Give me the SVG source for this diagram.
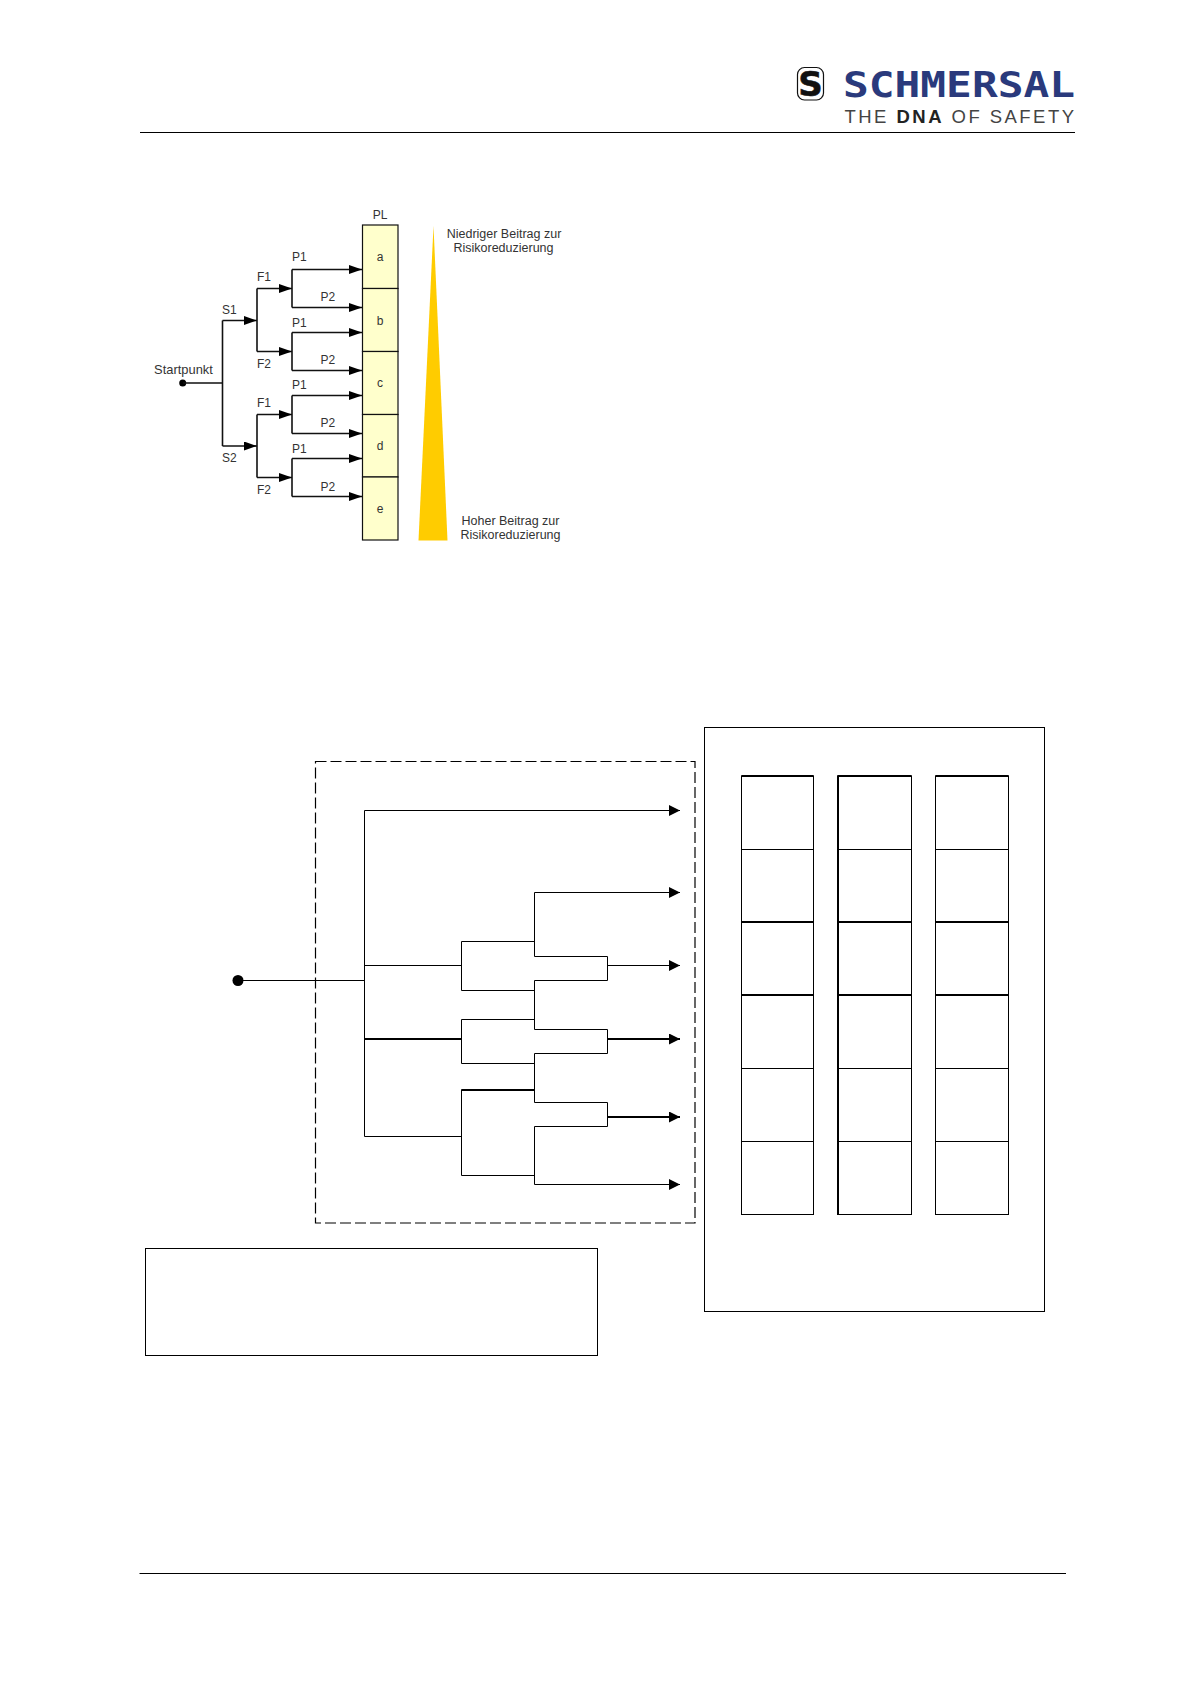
<svg xmlns="http://www.w3.org/2000/svg" width="1190" height="1684" viewBox="0 0 1190 1684">
<style>
.t{font-family:"Liberation Sans",Arial,sans-serif;font-size:12px;fill:#333}
.l{font-size:12.5px}
.m{text-anchor:middle}
.c{fill:none;stroke:#000;stroke-width:1}
.b{stroke-width:2}
.k{fill:none;stroke:#111;stroke-width:1.6}
.pl{fill:#FFFFCC;stroke:#111;stroke-width:1.2}
.g{fill:#fff;stroke:#000;stroke-width:1}
.h{stroke:#000;stroke-width:2;fill:none}
.r{stroke:#000;stroke-width:1;fill:none}
</style>
<defs>
<marker id="a1" markerUnits="userSpaceOnUse" markerWidth="13" markerHeight="9" refX="13" refY="4.5" orient="auto"><path d="M0 0L13 4.5L0 9Z" fill="#000"/></marker>
<marker id="a2" markerUnits="userSpaceOnUse" markerWidth="11" markerHeight="11" refX="11" refY="5.5" orient="auto"><path d="M0 0L11 5.5L0 11Z" fill="#000"/></marker>
</defs>
<rect width="1190" height="1684" fill="#fff"/>
<g id="header">
<line x1="140" y1="132.5" x2="1075" y2="132.5" stroke="#000" stroke-width="1"/>
<g id="logo-mark">
<rect x="797.5" y="67.5" width="26" height="32.5" rx="7" fill="#fff" stroke="#111" stroke-width="1.2"/>
<text x="810.5" y="96" text-anchor="middle" font-family="'DejaVu Sans',sans-serif" font-weight="700" font-size="34" fill="#111" stroke="#111" stroke-width="0.6">S</text>
</g>
<text x="843" y="97" font-family="'DejaVu Sans Mono',monospace" font-weight="700" font-size="35.5" fill="#2A3A7C" textLength="232" lengthAdjust="spacingAndGlyphs">SCHMERSAL</text>
<text x="844.5" y="123" font-family="'Liberation Sans',sans-serif" font-size="18.5" fill="#444" textLength="229.5">THE <tspan font-weight="700" fill="#222">DNA</tspan> OF SAFETY</text>
</g>
<g id="footer"><line x1="139.5" y1="1573.5" x2="1066" y2="1573.5" stroke="#000" stroke-width="1"/></g>

<g id="pl-column">
<g id="pl-a"><rect class="pl" x="362.5" y="225" width="35.5" height="63.5"/><text class="t m" x="380" y="260.5">a</text></g>
<g id="pl-b"><rect class="pl" x="362.5" y="288.5" width="35.5" height="63"/><text class="t m" x="380" y="325">b</text></g>
<g id="pl-c"><rect class="pl" x="362.5" y="351.5" width="35.5" height="63"/><text class="t m" x="380" y="387">c</text></g>
<g id="pl-d"><rect class="pl" x="362.5" y="414.5" width="35.5" height="62.5"/><text class="t m" x="380" y="450">d</text></g>
<g id="pl-e"><rect class="pl" x="362.5" y="477" width="35.5" height="63"/><text class="t m" x="380" y="513">e</text></g>
<text class="t m" x="380" y="219">PL</text>
</g>
<g id="risk-wedge">
<polygon points="433.5,226 447.5,540.5 418.5,540.5" fill="#FFCC00"/>
<text class="t l m" x="504" y="238">Niedriger Beitrag zur</text>
<text class="t l m" x="503.5" y="251.5">Risikoreduzierung</text>
<text class="t l m" x="510.5" y="525">Hoher Beitrag zur</text>
<text class="t l m" x="510.5" y="538.5">Risikoreduzierung</text>
</g>
<g id="risk-graph-connectors">
<circle cx="182.7" cy="383" r="3.5" fill="#000"/>
<path class="k" d="M183 383H222.5M222.5 320.5V446"/>
<path class="k" d="M222.5 320.5H257" marker-end="url(#a1)"/>
<path class="k" d="M222.5 446H257" marker-end="url(#a1)"/>
<path class="k" d="M257 288.5V351.5M257 414.5V477.5"/>
<path class="k" d="M257 288.5H292" marker-end="url(#a1)"/>
<path class="k" d="M257 351.5H292" marker-end="url(#a1)"/>
<path class="k" d="M257 414.5H292" marker-end="url(#a1)"/>
<path class="k" d="M257 477.5H292" marker-end="url(#a1)"/>
<path class="k" d="M292 269.5V307.5M292 332.5V370.5M292 395.5V433.5M292 458.5V496.5"/>
<path class="k" d="M292 269.5H362" marker-end="url(#a1)"/>
<path class="k" d="M292 307.5H362" marker-end="url(#a1)"/>
<path class="k" d="M292 332.5H362" marker-end="url(#a1)"/>
<path class="k" d="M292 370.5H362" marker-end="url(#a1)"/>
<path class="k" d="M292 395.5H362" marker-end="url(#a1)"/>
<path class="k" d="M292 433.5H362" marker-end="url(#a1)"/>
<path class="k" d="M292 458.5H362" marker-end="url(#a1)"/>
<path class="k" d="M292 496.5H362" marker-end="url(#a1)"/>
</g>
<g id="risk-graph-labels">
<text class="t l m" x="183.5" y="374" style="font-size:12.9px">Startpunkt</text>
<text class="t" x="222" y="314">S1</text><text class="t" x="222" y="462">S2</text>
<text class="t" x="257" y="281">F1</text><text class="t" x="257" y="368">F2</text>
<text class="t" x="257" y="407">F1</text><text class="t" x="257" y="494">F2</text>
<text class="t" x="292" y="260.5">P1</text><text class="t" x="292" y="326.5">P1</text><text class="t" x="292" y="389">P1</text><text class="t" x="292" y="452.5">P1</text>
<text class="t" x="320.5" y="301">P2</text><text class="t" x="320.5" y="364">P2</text><text class="t" x="320.5" y="427">P2</text><text class="t" x="320.5" y="490.5">P2</text>
</g>

<g id="dashed-box"><rect x="315.5" y="761.5" width="379.5" height="461.5" fill="none" stroke="#000" stroke-width="1.2" stroke-dasharray="11 4"/></g>
<g id="tree-connectors">
<circle cx="238" cy="980.5" r="5.5" fill="#000"/>
<path class="c" d="M238 980.5H364.5M364.5 810.5V1136.5"/>
<path class="c" d="M364.5 810.5H680" marker-end="url(#a2)"/>
<path class="c" d="M364.5 965.5H461.5M364.5 1136.5H461.5"/>
<path class="c b" d="M364.5 1039H461.5"/>
<path class="c" d="M461.5 941.5V990.5M461.5 1019.5V1063.5M461.5 1089.5V1175.5"/>
<path class="c" d="M461.5 941.5H534.5M461.5 990.5H534.5M461.5 1019.5H534.5M461.5 1063.5H534.5M461.5 1175.5H534.5"/>
<path class="c b" d="M461.5 1090H534.5"/>
<path class="c" d="M534.5 892.5V956.5M534.5 980.5V1029.5M534.5 1053.5V1102.5M534.5 1126.5V1184.5"/>
<path class="c" d="M534.5 892.5H680" marker-end="url(#a2)"/>
<path class="c" d="M534.5 1184.5H680" marker-end="url(#a2)"/>
<path class="c" d="M534.5 956.5H607.5V980.5H534.5M534.5 1029.5H607.5V1053.5H534.5M534.5 1102.5H607.5V1126.5H534.5"/>
<path class="c" d="M607.5 965.5H680" marker-end="url(#a2)"/>
<path class="c b" d="M607.5 1039H680" marker-end="url(#a2)"/>
<path class="c b" d="M607.5 1117H680" marker-end="url(#a2)"/>
</g>
<g id="note-box"><rect x="145.5" y="1248.5" width="452" height="107" fill="#fff" stroke="#000" stroke-width="1"/></g>
<g id="matrix-frame"><rect x="704.5" y="727.5" width="340" height="584" fill="#fff" stroke="#000" stroke-width="1"/></g>
<g id="col-1">
<rect class="g" x="741.5" y="776" width="72" height="438.5"/>
<path class="r" d="M741.5 849.5H813.5M741.5 1068.5H813.5M741.5 1141.5H813.5"/>
<path class="h" d="M741.5 776H813.5M741.5 922H813.5M741.5 995H813.5"/>
</g>
<g id="col-2">
<rect class="g" x="837.5" y="776" width="74" height="438.5"/>
<path class="r" d="M837.5 849.5H911.5M837.5 1068.5H911.5M837.5 1141.5H911.5"/>
<path class="h" d="M837.5 776H911.5M837.5 922H911.5M837.5 995H911.5M838 776V1214.5"/>
</g>
<g id="col-3">
<rect class="g" x="935.5" y="776" width="73" height="438.5"/>
<path class="r" d="M935.5 849.5H1008.5M935.5 1068.5H1008.5M935.5 1141.5H1008.5"/>
<path class="h" d="M935.5 776H1008.5M935.5 922H1008.5M935.5 995H1008.5"/>
</g>
</svg>
